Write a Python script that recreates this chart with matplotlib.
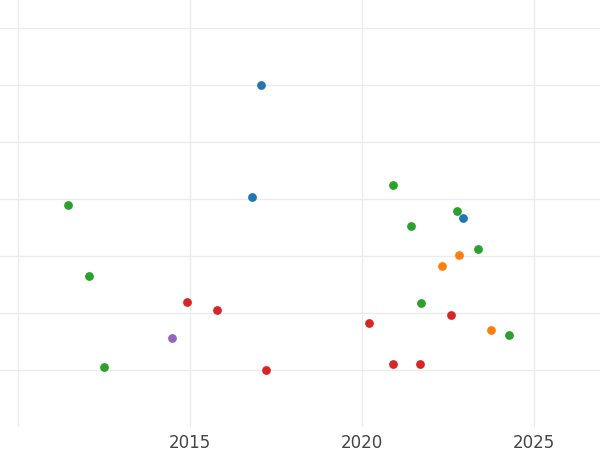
import matplotlib
matplotlib.use('Agg')
import matplotlib.pyplot as plt

# points per colour group: (year, value)
blue_x = [2017.06, 2016.80, 2022.94]
blue_y = [6.0, 4.04, 3.67]
green_x = [2011.45, 2012.06, 2012.50, 2020.90, 2021.42, 2022.76, 2023.37, 2021.72, 2024.27]
green_y = [3.89, 2.65, 1.05, 4.25, 3.53, 3.79, 3.12, 2.18, 1.61]
orange_x = [2022.33, 2022.82, 2023.75]
orange_y = [2.82, 3.02, 1.70]
red_x = [2014.91, 2015.78, 2020.20, 2022.59, 2020.90, 2021.69, 2017.21]
red_y = [2.19, 2.05, 1.82, 1.96, 1.11, 1.11, 1.0]
purple_x = [2014.48]
purple_y = [1.56]

x_ticks = [2010, 2015, 2020, 2025]
x_labels = ['', '2015', '2020', '2025']
y_ticks = [1, 2, 3, 4, 5, 6, 7]

fig = plt.figure(figsize=(6, 4.5), dpi=100)
ax = fig.add_axes([0, 23 / 450, 1, 427 / 450])

groups = [(blue_x, blue_y, '#1f77b4'), (green_x, green_y, '#2ca02c'),
          (orange_x, orange_y, '#ff7f0e'), (red_x, red_y, '#d62728'),
          (purple_x, purple_y, '#9467bd')]
for gx, gy, c in groups:
    ax.scatter(gx, gy, s=40, color=c, zorder=3, linewidths=0)

ax.set_xlim(2009.477, 2026.92)
ax.set_ylim(0, 7.49)
ax.set_xticks(x_ticks)
ax.set_xticklabels(x_labels)
ax.set_yticks(y_ticks)
ax.set_yticklabels([])
ax.tick_params(length=0, labelsize=12, labelcolor='#444444', pad=5)
ax.grid(color='#ebebeb', linewidth=1)
for s in ax.spines.values():
    s.set_visible(False)

fig.savefig('out.png')
